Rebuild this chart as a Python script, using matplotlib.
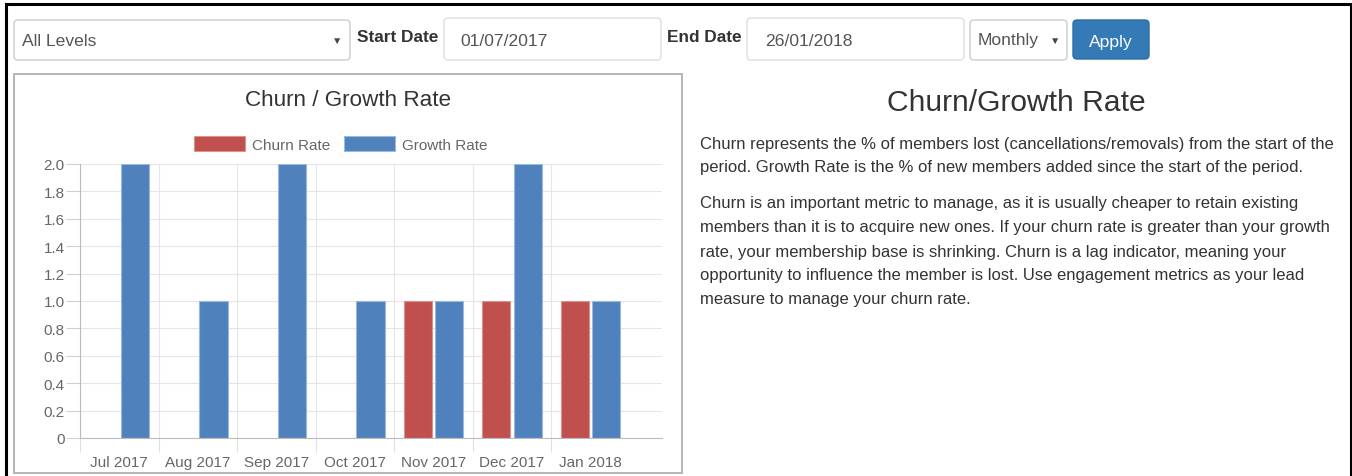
import matplotlib
matplotlib.use('Agg')
import matplotlib.pyplot as plt
from matplotlib.patches import FancyBboxPatch, Patch
import numpy as np

plt.rcParams['font.family'] = ['Liberation Sans', 'DejaVu Sans']

# chart data
months = ['Jul 2017', 'Aug 2017', 'Sep 2017', 'Oct 2017', 'Nov 2017', 'Dec 2017', 'Jan 2018']
churn_rate = [0, 0, 0, 0, 1, 1, 1]
growth_rate = [2, 1, 2, 1, 1, 2, 1]
y_ticks = [0, 0.2, 0.4, 0.6, 0.8, 1.0, 1.2, 1.4, 1.6, 1.8, 2.0]
y_tick_labels = ['0', '0.2', '0.4', '0.6', '0.8', '1.0', '1.2', '1.4', '1.6', '1.8', '2.0']
series_names = ['Churn Rate', 'Growth Rate']

# page texts
level_choice = 'All Levels'
start_date = '01/07/2017'
end_date = '26/01/2018'
period_choice = 'Monthly'
chart_title = 'Churn / Growth Rate'
heading = 'Churn/Growth Rate'
paragraph_lines = [
    'Churn represents the % of members lost (cancellations/removals) from the start of the',
    'period. Growth Rate is the % of new members added since the start of the period.',
    'Churn is an important metric to manage, as it is usually cheaper to retain existing',
    'members than it is to acquire new ones. If your churn rate is greater than your growth',
    'rate, your membership base is shrinking. Churn is a lag indicator, meaning your',
    'opportunity to influence the member is lost. Use engagement metrics as your lead',
    'measure to manage your churn rate.',
]
paragraph_y = [145, 168, 204, 228, 252, 276, 300]

RED = '#c0504d'
BLUE = '#4f81bd'
W, H = 1352, 477

fig = plt.figure(figsize=(W / 100, H / 100), dpi=100)

# page layer in pixel coordinates
page = fig.add_axes([0, 0, 1, 1], zorder=0)
page.set_xlim(0, W)
page.set_ylim(H, 0)
page.axis('off')


def box(x0, y0, x1, y1, fc='white', ec='#cccccc', lw=1.0, r=4):
    page.add_patch(FancyBboxPatch((x0, y0), x1 - x0, y1 - y0,
                                  boxstyle='round,pad=0,rounding_size=%d' % r,
                                  fc=fc, ec=ec, lw=lw))


# outer frame
page.plot([6, 6, 1351, 1351], [476, 5, 5, 477], color='black', lw=2.2,
          solid_joinstyle='miter')

# form controls
box(14, 21, 350, 61)
page.text(22, 41, level_choice, va='center', fontsize=12.6, color='#555555')
page.text(337, 41, '▼', va='center', ha='center', fontsize=7.5, color='#444444')
page.text(357, 38, 'Start Date', va='center', fontsize=12.4, weight='bold', color='#333333')
box(444, 19, 661, 61, ec='#dddddd')
page.text(460, 41, start_date, va='center', fontsize=12.6, color='#555555')
page.text(667, 38, 'End Date', va='center', fontsize=12.4, weight='bold', color='#333333')
box(747, 19, 964, 61, ec='#dddddd')
page.text(765, 41, end_date, va='center', fontsize=12.6, color='#555555')
box(970, 21, 1067, 61)
page.text(978, 41, period_choice, va='center', fontsize=12.6, color='#555555')
page.text(1055, 41, '▼', va='center', ha='center', fontsize=7.5, color='#444444')
box(1073, 21, 1149, 60, fc='#337ab7', ec='#2e6da4')
page.text(1111, 42, 'Apply', va='center', ha='center', fontsize=12.6, color='white')

# chart panel
page.add_patch(plt.Rectangle((13.5, 75), 668.5, 398.5, fc='white', ec='#aaaaaa', lw=1.2))
page.text(348, 100, chart_title, ha='center', va='center', fontsize=16.2, color='#333333')

# description
page.text(1016, 103, heading, ha='center', va='center', fontsize=21.6, color='#333333')
for line, y in zip(paragraph_lines, paragraph_y):
    page.text(700, y, line, va='center', fontsize=12.0, color='#333333')

# bar chart
ax = fig.add_axes([80 / W, (H - 439) / H, 582 / W, 274 / H], zorder=1)
ax.patch.set_alpha(0)
x = np.arange(len(months))
ax.bar(x - 0.2, churn_rate, 0.36, color=RED, edgecolor='#d9908e',
       linewidth=[0.8 if v else 0 for v in churn_rate], zorder=2)
ax.bar(x + 0.2, growth_rate, 0.36, color=BLUE, edgecolor='#9bb8dc',
       linewidth=[0.8 if v else 0 for v in growth_rate], zorder=2)
ax.set_xlim(-0.5, 6.91)
ax.set_ylim(0, 2.0)
ax.set_yticks(y_ticks, y_tick_labels)
ax.set_xticks(x, months)
ax.set_xticks(np.arange(-0.5, 6), minor=True)
ax.tick_params(axis='y', length=10, width=0.8, color='#d0d0d0', pad=1,
               labelsize=11, labelcolor='#666666')
ax.tick_params(axis='x', which='major', length=0, pad=12, labelsize=11, labelcolor='#666666')
ax.tick_params(axis='x', which='minor', length=10, width=0.8, color='#e0e0e0')
ax.grid(axis='y', color='#e6e6e6', lw=0.8)
ax.grid(axis='x', which='minor', color='#e6e6e6', lw=0.8)
ax.set_axisbelow(True)
for side in ['top', 'right']:
    ax.spines[side].set_visible(False)
for side in ['left', 'bottom']:
    ax.spines[side].set_color('#bbbbbb')
    ax.spines[side].set_linewidth(0.8)

handles = [Patch(fc=RED, ec='#d9908e', lw=0.8), Patch(fc=BLUE, ec='#9bb8dc', lw=0.8)]
fig.legend(handles, series_names, loc='center', bbox_to_anchor=(341 / W, 1 - 145 / H),
           ncol=2, frameon=False, fontsize=11, handlelength=3.3, handleheight=1.05,
           handletextpad=0.5, columnspacing=0.9, labelcolor='#666666')

fig.savefig('out.png', dpi=100)
